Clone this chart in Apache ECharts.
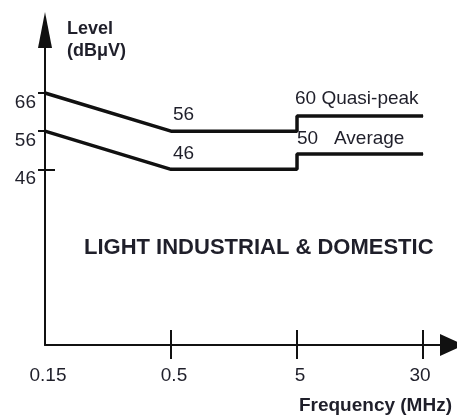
<!DOCTYPE html>
<html>
<head>
<meta charset="utf-8">
<script src="https://cdn.jsdelivr.net/npm/echarts@6/dist/echarts.min.js"></script>
<style>
html,body{margin:0;padding:0;background:#fff;}
#chart{width:457px;height:419px;}
</style>
</head>
<body>
<div id="chart"></div>
<script>
// Frequency tick labels (MHz), placed at equal spacing
const freqLabels = ['0.15', '0.5', '5', '30'];
const freqPositions = [0, 1, 2, 3];
// Level tick labels (dBuV)
const levelTicks = [46, 56, 66];
// Limit lines: [frequency position, level dBuV]
const quasiPeak = [[0, 66], [1, 56], [2, 56], [2, 60], [3, 60]];
const average = [[0, 56], [1, 46], [2, 46], [2, 50], [3, 50]];
const quasiPeakName = 'Quasi-peak';
const averageName = 'Average';
const titleText = 'LIGHT INDUSTRIAL & DOMESTIC';

const FONT = 'Liberation Sans, Arial, sans-serif';
const INK = '#1f1f2a';

const chart = echarts.init(document.getElementById('chart'), null, {renderer: 'canvas'});

function lineLabel(name) {
  return function (p) {
    if (p.dataIndex === 1) return String(p.value[1]);
    if (p.dataIndex === 3) return p.value[1] + name;
    return '';
  };
}

function makeData(arr, cfg) {
  return arr.map(function (d, i) {
    const item = {value: d};
    if (cfg[i]) item.label = Object.assign({show: true, position: 'top', align: 'left',
      fontFamily: FONT, fontSize: 19, color: INK}, cfg[i]);
    return item;
  });
}

const option = {
  animation: false,
  backgroundColor: '#fff',
  title: {
    text: titleText,
    left: 84,
    top: 237,
    padding: 0,
    textStyle: {fontFamily: FONT, fontSize: 22, fontWeight: 'bold', color: INK}
  },
  grid: {left: 45, right: 5, top: 30, bottom: 74, containLabel: false},
  xAxis: [{
    type: 'value',
    min: 0,
    max: 3.23,
    name: 'Frequency (MHz)',
    nameLocation: 'end',
    nameGap: 0,
    nameTextStyle: {
      fontFamily: FONT, fontSize: 19, fontWeight: 'bold', color: INK,
      align: 'right', verticalAlign: 'top', padding: [51, 0, 0, 0]
    },
    axisLine: {show: true, onZero: false, symbol: ['none', 'triangle'], symbolSize: [22, 24],
      lineStyle: {color: '#111', width: 2}},
    axisTick: {show: true, inside: false, length: 14, customValues: freqPositions.slice(1),
      lineStyle: {color: '#111', width: 2}},
    axisLabel: {show: true, margin: 21, customValues: freqPositions,
      fontFamily: FONT, fontSize: 19, color: INK,
      formatter: function (v) {
        const i = Math.round(v);
        return (i === freqLabels.length - 1 ? '{l|' : '{r|') + freqLabels[i] + '}';
      },
      rich: {
        r: {fontFamily: FONT, fontSize: 19, color: INK, padding: [0, 0, 0, 6]},
        l: {fontFamily: FONT, fontSize: 19, color: INK, padding: [0, 6, 0, 0]}
      }},
    splitLine: {show: false}
  }, {
    type: 'value',
    min: 0,
    max: 3.23,
    position: 'bottom',
    axisLine: {show: false},
    axisTick: {show: true, inside: true, length: 15, customValues: freqPositions.slice(1),
      lineStyle: {color: '#111', width: 2}},
    axisLabel: {show: false},
    splitLine: {show: false}
  }],
  yAxis: [{
    type: 'value',
    min: 0,
    max: 82.5,
    name: 'Level\n(dBμV)',
    nameLocation: 'end',
    nameGap: 12,
    nameTextStyle: {
      fontFamily: FONT, fontSize: 18, fontWeight: 'bold', color: INK, lineHeight: 22,
      align: 'left', verticalAlign: 'top', padding: [0, 0, 0, 22]
    },
    axisLine: {show: true, onZero: false, symbol: ['none', 'triangle'], symbolSize: [14, 36],
      lineStyle: {color: '#111', width: 2}},
    axisTick: {show: true, inside: false, length: 7, customValues: levelTicks,
      lineStyle: {color: '#111', width: 2}},
    axisLabel: {show: true, margin: 9, customValues: levelTicks, verticalAlign: 'top',
      fontFamily: FONT, fontSize: 19, color: INK},
    splitLine: {show: false}
  }, {
    type: 'value',
    min: 0,
    max: 82.5,
    position: 'left',
    axisLine: {show: false},
    axisTick: {show: true, inside: true, length: 10, customValues: [levelTicks[0]],
      lineStyle: {color: '#111', width: 2}},
    axisLabel: {show: false},
    splitLine: {show: false}
  }],
  series: [{
    type: 'line',
    name: quasiPeakName,
    xAxisIndex: 0,
    yAxisIndex: 0,
    symbol: 'circle',
    symbolSize: 1,
    showSymbol: true,
    itemStyle: {color: '#111'},
    lineStyle: {color: '#111', width: 3.5},
    label: {show: false},
    data: makeData(quasiPeak, {
      1: {distance: 6, offset: [2, 0], formatter: lineLabel(' ' + quasiPeakName)},
      3: {distance: 7, offset: [-2, 0], formatter: lineLabel(' ' + quasiPeakName)}
    })
  }, {
    type: 'line',
    name: averageName,
    xAxisIndex: 0,
    yAxisIndex: 0,
    symbol: 'circle',
    symbolSize: 1,
    showSymbol: true,
    itemStyle: {color: '#111'},
    lineStyle: {color: '#111', width: 3.5},
    label: {show: false},
    data: makeData(average, {
      1: {distance: 6, offset: [2, 0], formatter: lineLabel('   ' + averageName)},
      3: {distance: 5, offset: [0, 0], formatter: lineLabel('   ' + averageName)}
    })
  }]
};

chart.setOption(option);
</script>
</body>
</html>
